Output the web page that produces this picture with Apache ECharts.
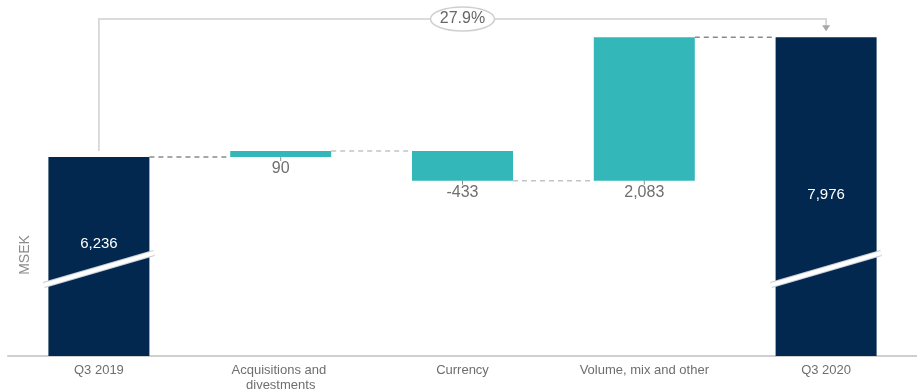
<!DOCTYPE html>
<html><head><meta charset="utf-8">
<script src="https://cdn.jsdelivr.net/npm/echarts@6/dist/echarts.min.js"></script>
<style>html,body{margin:0;padding:0;background:#fff}#c{width:917px;height:389px}</style>
</head><body><div id="c"></div>
<script>
// ---- data ----
const categories = ['Q3 2019', 'Acquisitions and divestments', 'Currency', 'Volume, mix and other', 'Q3 2020'];
const startValue = 6236;
const changes = [90, -433, 2083];
const endValue = 7976;
const axisMin = 3350;
const axisMax = 8370;

// ---- style constants ----
const FONT = 'Liberation Sans';
const NAVY = '#02284f';
const TEAL = '#34b7b9';
const BAR_W = 101;

const fmt = v => v.toLocaleString('en-US');

// build waterfall from data
const levels = [startValue];
changes.forEach(c => levels.push(levels[levels.length - 1] + c));
const helper = [0];
const visible = [startValue];
changes.forEach((c, i) => {
  helper.push(Math.min(levels[i], levels[i + 1]));
  visible.push(Math.abs(c));
});
helper.push(0);
visible.push(endValue);
const labelTexts = [fmt(startValue)].concat(changes.map(fmt), [fmt(endValue)]);
const growth = ((endValue / startValue - 1) * 100).toFixed(1) + '%';

const totalIdx = [0, categories.length - 1];
const visData = visible.map((v, i) => {
  const isTotal = totalIdx.includes(i);
  return {
    value: v,
    itemStyle: { color: isTotal ? NAVY : TEAL },
    label: isTotal
      ? { position: 'inside', color: '#ffffff', fontSize: 15, offset: [0, i === 0 ? -13 : -2] }
      : { position: 'bottom', distance: 4, color: '#6f6f6f', fontSize: 16 }
  };
});

const dashColors = ['#8a8a8a', '#c4c4c4', '#c4c4c4', '#8a8a8a'];

const chart = echarts.init(document.getElementById('c'), null, { renderer: 'canvas' });
chart.setOption({
  animation: false,
  textStyle: { fontFamily: FONT },
  grid: { left: 8, right: 0, top: 10, bottom: 33, containLabel: false, outerBoundsMode: 'none' },
  xAxis: {
    type: 'category',
    data: categories,
    axisLine: { lineStyle: { color: '#cfcfcf', width: 2 } },
    axisTick: { show: false },
    axisLabel: { interval: 0, color: '#6e6e6e', fontSize: 13, fontFamily: FONT, margin: 7, width: 140, overflow: 'break', lineHeight: 15 }
  },
  yAxis: { type: 'value', min: axisMin, max: axisMax, show: false },
  graphic: [{
    type: 'text', x: 25, y: 255, rotation: Math.PI / 2,
    style: { text: 'MSEK', fill: '#8c8c8c', fontSize: 14, fontFamily: FONT, align: 'center', verticalAlign: 'middle' }
  }],
  series: [
    {
      type: 'bar', stack: 'wf', barWidth: BAR_W, silent: true,
      itemStyle: { color: 'transparent' },
      data: helper
    },
    {
      type: 'bar', stack: 'wf', barWidth: BAR_W,
      label: { show: true, fontFamily: FONT, formatter: p => labelTexts[p.dataIndex] },
      data: visData
    },
    {
      // dashed connectors between consecutive bars
      type: 'custom', clip: false, silent: true, z: 5,
      encode: { x: 0, y: 1 },
      data: levels.map((v, i) => [i, v]),
      renderItem: (params, api) => {
        const i = api.value(0), v = api.value(1);
        const a = api.coord([i, v]);
        const b = api.coord([i + 1, v]);
        return {
          type: 'line',
          shape: { x1: a[0] + BAR_W / 2, y1: a[1], x2: b[0] - BAR_W / 2, y2: b[1] },
          style: { stroke: dashColors[params.dataIndex], lineWidth: 1.5, lineDash: [5, 4] }
        };
      }
    },
    {
      // small ticks under change labels
      type: 'custom', clip: false, silent: true, z: 5,
      encode: { x: 0, y: 1 },
      data: changes.map((c, i) => [i + 1, Math.min(levels[i], levels[i + 1])]),
      renderItem: (params, api) => {
        const p = api.coord([api.value(0), api.value(1)]);
        return { type: 'line', shape: { x1: p[0], y1: p[1], x2: p[0], y2: p[1] + 4 }, style: { stroke: '#8a8a8a', lineWidth: 1 } };
      }
    },
    {
      // axis-break marks on total bars
      type: 'custom', clip: false, silent: true, z: 5,
      encode: { x: 0, y: 1 },
      data: totalIdx.map(i => [i, axisMin]),
      renderItem: (params, api) => {
        const p = api.coord([api.value(0), api.value(1)]);
        const shape = { x1: p[0] - 55, y1: p[1] - 71, x2: p[0] + 55, y2: p[1] - 103 };
        return {
          type: 'group', children: [
            { type: 'line', shape, style: { stroke: '#c8ccd4', lineWidth: 6, lineCap: 'butt' } },
            { type: 'line', shape, style: { stroke: '#ffffff', lineWidth: 4, lineCap: 'butt' } }
          ]
        };
      }
    },
    {
      // growth bracket
      type: 'custom', clip: false, silent: true, z: 5,
      encode: { x: 0, y: 1 },
      data: [[0, startValue, totalIdx[1], endValue]],
      renderItem: (params, api) => {
        const p0 = api.coord([api.value(0), api.value(1)]);
        const p1 = api.coord([api.value(2), api.value(3)]);
        const topY = api.coord([0, axisMax])[1] + 9;
        const mid = (p0[0] + p1[0]) / 2;
        return {
          type: 'group', children: [
            { type: 'polyline', shape: { points: [[p0[0], p0[1] - 6], [p0[0], topY], [p1[0], topY], [p1[0], p1[1] - 10]] },
              style: { stroke: '#cfcfcf', lineWidth: 1.5, fill: null } },
            { type: 'polygon', shape: { points: [[p1[0] - 4, p1[1] - 12], [p1[0] + 4, p1[1] - 12], [p1[0], p1[1] - 6]] },
              style: { fill: '#a8a8a8' } },
            { type: 'ellipse', shape: { cx: mid, cy: topY, rx: 32, ry: 12 },
              style: { fill: '#ffffff', stroke: '#cfcfcf', lineWidth: 1.5 } },
            { type: 'text', x: mid, y: topY,
              style: { text: growth, fill: '#666666', fontSize: 16, fontFamily: FONT, align: 'center', verticalAlign: 'middle' } }
          ]
        };
      }
    }
  ]
});
</script>
</body></html>
